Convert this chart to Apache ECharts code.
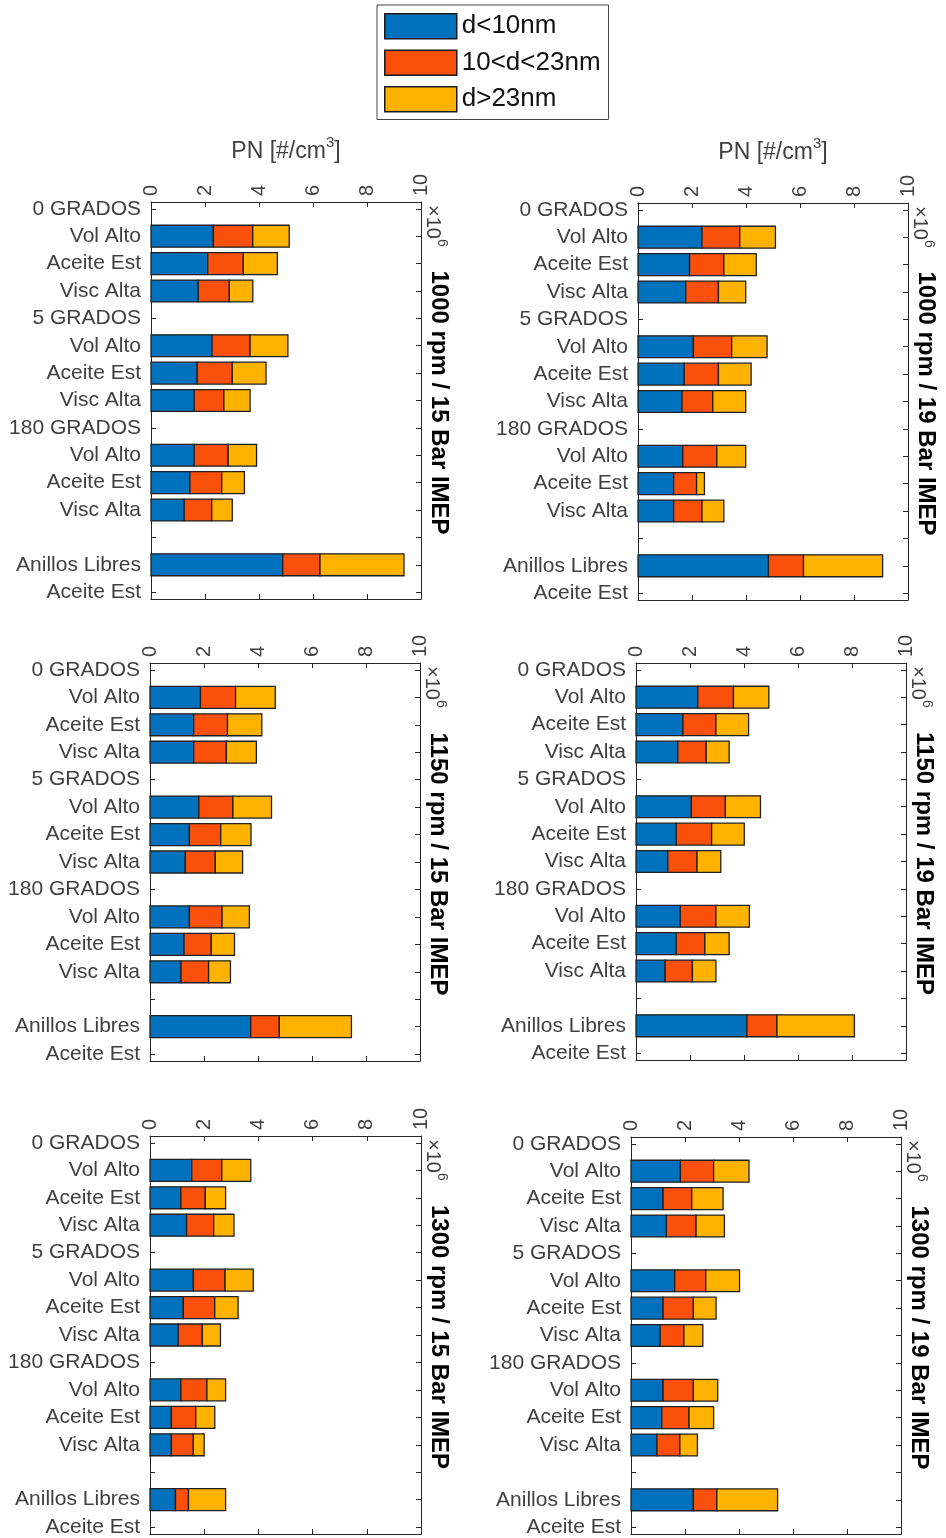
<!DOCTYPE html>
<html>
<head>
<meta charset="utf-8">
<script src="https://cdn.jsdelivr.net/npm/echarts@6/dist/echarts.min.js"></script>
<style>
html,body{margin:0;padding:0;background:#fff;}
#chart{width:946px;height:1538px;}
</style>
</head>
<body>
<div id="chart"></div>
<script>
// ---------- data (values in ×10^6 #/cm3) ----------
const categories = ['0 GRADOS','Vol Alto','Aceite Est','Visc Alta','5 GRADOS','Vol Alto','Aceite Est','Visc Alta','180 GRADOS','Vol Alto','Aceite Est','Visc Alta','','Anillos Libres','Aceite Est'];
const barRows = [2,3,4,6,7,8,10,11,12,14];
const sizeClasses = ['d<10nm','10<d<23nm','d>23nm'];
const panelTitles = ['1000 rpm / 15 Bar IMEP','1000 rpm / 19 Bar IMEP','1150 rpm / 15 Bar IMEP','1150 rpm / 19 Bar IMEP','1300 rpm / 15 Bar IMEP','1300 rpm / 19 Bar IMEP'];
const xTickStep = 2;
const xMax = 10;

const rpm1000_15_small = [2.31,2.10,1.75,2.26,1.71,1.60,1.60,1.44,1.23,4.88];
const rpm1000_15_mid   = [1.46,1.32,1.15,1.41,1.30,1.10,1.26,1.18,1.02,1.38];
const rpm1000_15_large = [1.35,1.26,0.87,1.40,1.25,0.97,1.05,0.84,0.76,3.11];

const rpm1000_19_small = [2.37,1.91,1.77,2.05,1.71,1.63,1.66,1.32,1.32,4.83];
const rpm1000_19_mid   = [1.40,1.27,1.21,1.42,1.27,1.14,1.26,0.85,1.05,1.30];
const rpm1000_19_large = [1.32,1.20,1.01,1.31,1.21,1.22,1.07,0.29,0.81,2.93];

const rpm1150_15_small = [1.87,1.62,1.62,1.81,1.46,1.31,1.46,1.26,1.15,3.73];
const rpm1150_15_mid   = [1.30,1.25,1.21,1.26,1.16,1.11,1.21,1.01,1.02,1.06];
const rpm1150_15_large = [1.47,1.27,1.11,1.43,1.12,1.01,1.01,0.86,0.81,2.67];

const rpm1150_19_small = [2.29,1.74,1.55,2.05,1.49,1.18,1.64,1.49,1.08,4.11];
const rpm1150_19_mid   = [1.32,1.22,1.05,1.26,1.31,1.08,1.32,1.06,1.01,1.11];
const rpm1150_19_large = [1.31,1.21,0.85,1.30,1.21,0.88,1.24,0.90,0.87,2.87];

const rpm1300_15_small = [1.54,1.14,1.35,1.60,1.23,1.04,1.14,0.79,0.79,0.94];
const rpm1300_15_mid   = [1.11,0.90,1.00,1.17,1.16,0.89,0.96,0.90,0.81,0.48];
const rpm1300_15_large = [1.07,0.75,0.75,1.04,0.86,0.67,0.69,0.70,0.40,1.37];

const rpm1300_19_small = [1.83,1.19,1.31,1.62,1.19,1.08,1.19,1.14,0.96,2.31];
const rpm1300_19_mid   = [1.23,1.06,1.10,1.15,1.12,0.88,1.12,1.01,0.85,0.87];
const rpm1300_19_large = [1.31,1.16,1.05,1.25,0.84,0.70,0.90,0.91,0.65,2.25];

const panelData = [
  [rpm1000_15_small, rpm1000_15_mid, rpm1000_15_large],
  [rpm1000_19_small, rpm1000_19_mid, rpm1000_19_large],
  [rpm1150_15_small, rpm1150_15_mid, rpm1150_15_large],
  [rpm1150_19_small, rpm1150_19_mid, rpm1150_19_large],
  [rpm1300_15_small, rpm1300_15_mid, rpm1300_15_large],
  [rpm1300_19_small, rpm1300_19_mid, rpm1300_19_large]
];

// ---------- layout / style ----------
const FONT = "'Liberation Sans', Arial, Helvetica, sans-serif";
const colors = ['#0072BD', '#FA500A', '#FFB300'];
const axisColor = '#262626';
const labelColor = '#404040';
const gridBoxes = [
  {left:151, top:202, width:270, height:397},
  {left:638, top:203, width:270, height:397},
  {left:150, top:663, width:270, height:398},
  {left:636, top:663, width:270, height:397},
  {left:150, top:1136, width:271, height:398},
  {left:631, top:1137, width:270, height:397}
];
const rowValues = categories.map((c, i) => i + 1);

const grids = [], xAxes = [], yAxes = [], series = [], graphics = [];

gridBoxes.forEach((g, i) => {
  grids.push({left:g.left, top:g.top, width:g.width, height:g.height, containLabel:false});
  const topAxis = {
    gridIndex:i, type:'value', position:'top', min:0, max:xMax, interval:xTickStep,
    axisLine:{show:true, onZero:false, lineStyle:{color:axisColor, width:1}},
    axisTick:{show:true, inside:true, length:5, lineStyle:{color:axisColor}},
    axisLabel:{show:true, rotate:-90, fontSize:20, color:labelColor, margin:6, fontFamily:FONT},
    splitLine:{show:false}
  };
  if (i < 2) {
    topAxis.name = '{a|PN [#/cm}{s|3}{a|]}';
    topAxis.nameLocation = 'middle';
    topAxis.nameGap = 39;
    topAxis.nameTextStyle = {
      rich: {
        a:{fontSize:23, color:labelColor, fontFamily:FONT, lineHeight:28, verticalAlign:'bottom'},
        s:{fontSize:15, color:labelColor, fontFamily:FONT, lineHeight:28, verticalAlign:'top'}
      }
    };
  }
  xAxes.push(topAxis);
  xAxes.push({
    gridIndex:i, type:'value', position:'bottom', min:0, max:xMax, interval:xTickStep,
    axisLine:{show:true, onZero:false, lineStyle:{color:axisColor, width:1}},
    axisTick:{show:true, inside:true, length:5, lineStyle:{color:axisColor}},
    axisLabel:{show:false}, splitLine:{show:false}
  });
  yAxes.push({
    gridIndex:i, type:'value', position:'left', min:0.75, max:15.25, inverse:true,
    axisLine:{show:true, onZero:false, lineStyle:{color:axisColor, width:1}},
    axisTick:{show:true, inside:true, length:5, customValues:rowValues, lineStyle:{color:axisColor}},
    axisLabel:{show:true, customValues:rowValues, formatter:(v) => categories[Math.round(v) - 1],
               fontSize:21, color:labelColor, margin:10, fontFamily:FONT},
    splitLine:{show:false}
  });
  yAxes.push({
    gridIndex:i, type:'value', position:'right', min:0.75, max:15.25, inverse:true,
    axisLine:{show:true, onZero:false, lineStyle:{color:axisColor, width:1}},
    axisTick:{show:true, inside:true, length:5, customValues:rowValues, lineStyle:{color:axisColor}},
    axisLabel:{show:false}, splitLine:{show:false}
  });

  const vals = panelData[i];
  const starts = barRows.map(() => 0);
  vals.forEach((arr, k) => {
    const data = arr.map((v, j) => {
      const s = starts[j];
      starts[j] = s + v;
      return [s, s + v, barRows[j]];
    });
    series.push({
      type:'custom', name:sizeClasses[k], xAxisIndex:2*i, yAxisIndex:2*i,
      itemStyle:{color:colors[k]},
      encode:{x:[0,1], y:2},
      data:data,
      renderItem:(params, api) => {
        const p0 = api.coord([api.value(0), api.value(2)]);
        const p1 = api.coord([api.value(1), api.value(2)]);
        const h = api.size([0, 0.8])[1];
        return {
          type:'rect',
          shape:{x:p0[0], y:p0[1] - h/2, width:p1[0] - p0[0], height:h},
          style:{fill:colors[k], stroke:'#1f1f1f', lineWidth:1.3}
        };
      }
    });
  });

  // ×10^6 multiplier and panel title (rotated)
  graphics.push({
    type:'text', x:g.left + g.width + 15, y:g.top + 3, rotation:-Math.PI/2,
    style:{
      text:'{a|×10}{s|6}', align:'left', verticalAlign:'middle',
      rich:{
        a:{fontSize:20, fill:labelColor, fontFamily:FONT, lineHeight:26, verticalAlign:'bottom'},
        s:{fontSize:14, fill:labelColor, fontFamily:FONT, lineHeight:26, verticalAlign:'top'}
      }
    }
  });
  graphics.push({
    type:'text', x:g.left + g.width + 18, y:g.top + g.height/2 + 2, rotation:-Math.PI/2,
    style:{text:panelTitles[i], align:'center', verticalAlign:'middle',
           font:'bold 24px ' + FONT, fill:'#000'}
  });
});

const chart = echarts.init(document.getElementById('chart'), null, {renderer:'canvas'});
chart.setOption({
  backgroundColor:'#ffffff',
  animation:false,
  legend:{
    data:sizeClasses, left:377, top:5, orient:'vertical',
    padding:[8,8,7,7], itemWidth:72, itemHeight:25, itemGap:10,
    borderColor:'#444', borderWidth:1, icon:'rect',
    itemStyle:{borderColor:'#1a1a1a', borderWidth:1.5},
    textStyle:{fontSize:26, color:'#111', fontFamily:FONT}
  },
  grid:grids,
  xAxis:xAxes,
  yAxis:yAxes,
  series:series,
  graphic:graphics
});
</script>
</body>
</html>
